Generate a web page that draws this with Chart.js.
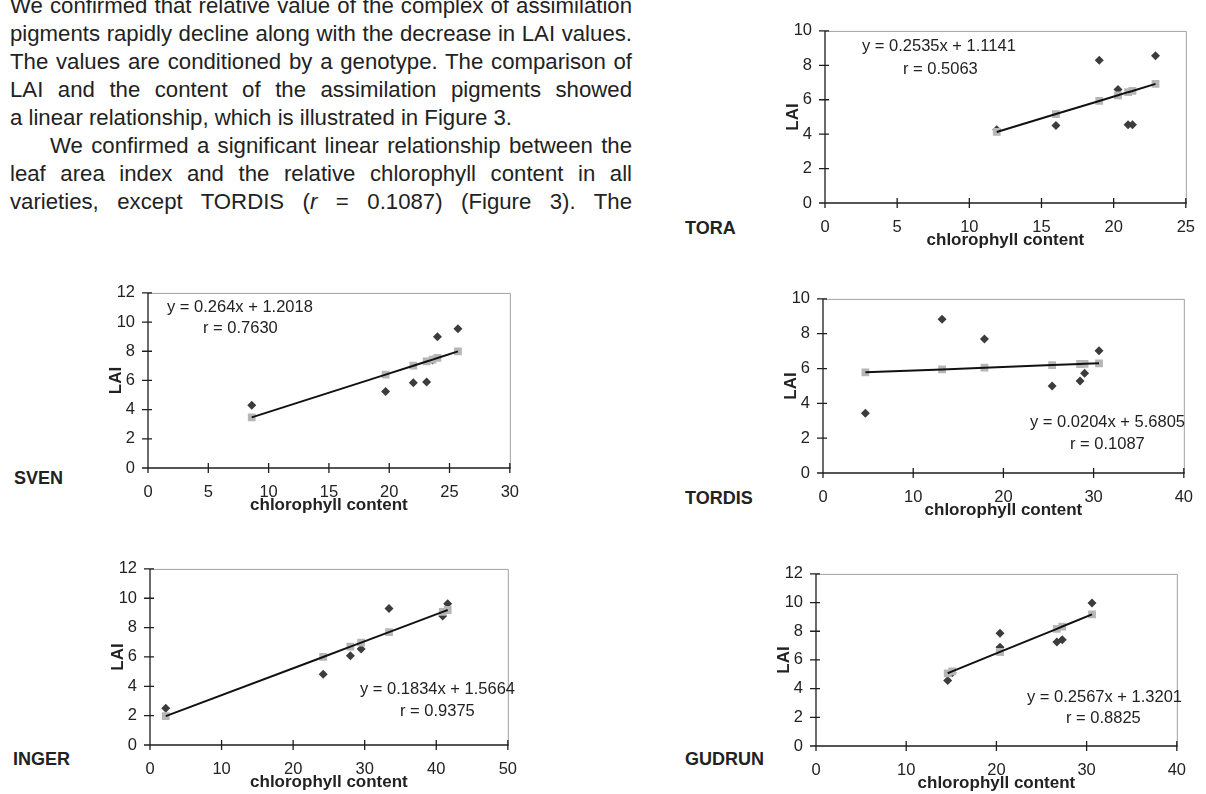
<!DOCTYPE html>
<html>
<head>
<meta charset="utf-8">
<script src="https://cdn.jsdelivr.net/npm/chart.js@4.4.0/dist/chart.umd.min.js"></script>
<style>
  html, body { margin: 0; padding: 0; background: #fff; overflow: hidden; }
  body { width: 1206px; height: 794px; position: relative; color: #222;
         font-family: Arial, "Liberation Sans", Helvetica, sans-serif; }
  #para { position: absolute; left: 10px; top: -8px; width: 622px; font-size: 22.2px; line-height: 28px; }
  #para div { text-align: justify; text-align-last: justify; }
  #para div.last { text-align-last: left; }
  #para div.indent { padding-left: 40px; }
  .variety { position: absolute; font-weight: bold; font-size: 18px; line-height: 20px; }
  .eq { position: absolute; font-size: 16.5px; line-height: 20px; white-space: nowrap; }
  canvas { position: absolute; }
</style>
</head>
<body>
<div id="para">
  <div>We confirmed that relative value of the complex of assimilation</div>
  <div>pigments rapidly decline along with the decrease in LAI values.</div>
  <div>The values are conditioned by a genotype. The comparison of</div>
  <div>LAI and the content of the assimilation pigments showed</div>
  <div class="last">a linear relationship, which is illustrated in Figure 3.</div>
  <div class="indent">We confirmed a significant linear relationship between the</div>
  <div>leaf area index and the relative chlorophyll content in all</div>
  <div>varieties, except TORDIS (<i>r</i> = 0.1087) (Figure 3). The</div>
</div>

<div class="variety" style="left:685px; top:218px">TORA</div>
<div class="variety" style="left:14px; top:468px">SVEN</div>
<div class="variety" style="left:685px; top:488px">TORDIS</div>
<div class="variety" style="left:13px; top:749px">INGER</div>
<div class="variety" style="left:685px; top:749px">GUDRUN</div>

<canvas id="tora" width="445" height="245" style="left:765px; top:8px"></canvas>
<canvas id="sven" width="446" height="248" style="left:88px; top:270px"></canvas>
<canvas id="tordis" width="445" height="247" style="left:763px; top:276px"></canvas>
<canvas id="inger" width="442" height="249" style="left:90px; top:546px"></canvas>
<canvas id="gudrun" width="445" height="245" style="left:756px; top:551px"></canvas>

<div class="eq" style="left:862px; top:35px">y = 0.2535x + 1.1141</div>
<div class="eq" style="left:903px; top:58px">r = 0.5063</div>
<div class="eq" style="left:167px; top:296px">y = 0.264x + 1.2018</div>
<div class="eq" style="left:203px; top:317px">r = 0.7630</div>
<div class="eq" style="left:1030px; top:411px">y = 0.0204x + 5.6805</div>
<div class="eq" style="left:1070px; top:433px">r = 0.1087</div>
<div class="eq" style="left:360px; top:678px">y = 0.1834x + 1.5664</div>
<div class="eq" style="left:400px; top:700px">r = 0.9375</div>
<div class="eq" style="left:1027px; top:686px">y = 0.2567x + 1.3201</div>
<div class="eq" style="left:1066px; top:707px">r = 0.8825</div>

<script>
// chlorophyll content (x), measured LAI and LAI from the regression line
const toraX = [11.9, 16, 19, 20.3, 21, 21.3, 22.9];
const toraLAI = [4.25, 4.5, 8.3, 6.6, 4.55, 4.55, 8.55];
const toraFit = [4.13, 5.17, 5.93, 6.26, 6.44, 6.51, 6.92];

const svenX = [8.6, 19.7, 22.0, 23.1, 23.6, 24.0, 25.7];
const svenLAI = [4.3, 5.25, 5.85, 5.9, 7.4, 9.0, 9.55];
const svenFit = [3.47, 6.40, 7.01, 7.30, 7.43, 7.54, 7.99];

const tordisX = [4.7, 13.2, 17.9, 25.4, 28.5, 29.0, 30.6];
const tordisLAI = [3.43, 8.83, 7.7, 5.0, 5.28, 5.73, 7.02];
const tordisFit = [5.78, 5.95, 6.05, 6.20, 6.26, 6.27, 6.30];

const ingerX = [2.2, 24.2, 28.0, 29.5, 33.4, 40.9, 41.6];
const ingerLAI = [2.5, 4.82, 6.09, 6.54, 9.3, 8.79, 9.63];
const ingerFit = [1.97, 6.00, 6.70, 6.98, 7.69, 9.07, 9.20];

const gudrunX = [14.6, 15.1, 20.4, 20.4, 26.7, 27.3, 30.6];
const gudrunLAI = [4.56, 5.1, 7.87, 6.89, 7.26, 7.41, 9.97];
const gudrunFit = [5.07, 5.20, 6.56, 6.56, 8.17, 8.33, 9.18];

Chart.defaults.font.family = 'Arial, "Liberation Sans", Helvetica, sans-serif';
Chart.defaults.color = '#222';

// gray box on top/right, black axes with crossing tick marks
const frame = {
  id: 'frame',
  beforeDatasetsDraw(chart) {
    const ctx = chart.ctx;
    const a = chart.chartArea;
    const x = chart.scales.x, y = chart.scales.y;
    ctx.save();
    ctx.strokeStyle = '#a0a0a0';
    ctx.lineWidth = 1;
    ctx.beginPath();
    ctx.moveTo(a.left, a.top + 0.5);
    ctx.lineTo(a.right + 0.5, a.top + 0.5);
    ctx.lineTo(a.right + 0.5, a.bottom);
    ctx.stroke();
    ctx.strokeStyle = '#1e1e1e';
    ctx.lineWidth = 1.3;
    ctx.beginPath();
    ctx.moveTo(a.left, a.top);
    ctx.lineTo(a.left, a.bottom);
    ctx.lineTo(a.right + 1, a.bottom);
    y.ticks.forEach(t => {
      const py = y.getPixelForValue(t.value);
      ctx.moveTo(a.left - 6, py);
      ctx.lineTo(a.left + 4, py);
    });
    x.ticks.forEach(t => {
      const px = x.getPixelForValue(t.value);
      ctx.moveTo(px, a.bottom - 5);
      ctx.lineTo(px, a.bottom + 5);
    });
    ctx.stroke();
    ctx.restore();
  }
};

function pts(xs, ys) {
  return xs.map((v, i) => ({ x: v, y: ys[i] }));
}

function drawChart(id, xs, lai, fit, xMax, xStep, yMax) {
  const ctx = document.getElementById(id).getContext('2d');
  new Chart(ctx, {
    type: 'scatter',
    data: {
      datasets: [{
        data: pts(xs, fit),
        showLine: true,
        borderColor: '#111',
        borderWidth: 2,
        pointRadius: 0,
        order: 0
      }, {
        data: pts(xs, fit),
        pointStyle: 'rect',
        pointRadius: 5.5,
        backgroundColor: '#b6b6b6',
        borderWidth: 0,
        order: 1
      }, {
        data: pts(xs, lai),
        pointStyle: 'rectRot',
        pointRadius: 4.5,
        backgroundColor: '#3c3c3c',
        borderWidth: 0,
        order: 2
      }]
    },
    options: {
      responsive: false,
      animation: false,
      layout: { padding: { top: 12, right: 14, left: 0, bottom: 0 } },
      plugins: { legend: { display: false }, tooltip: { enabled: false } },
      scales: {
        x: {
          type: 'linear', min: 0, max: xMax,
          ticks: { stepSize: xStep, padding: 15, font: { size: 16.5 } },
          grid: { display: false, drawTicks: false },
          border: { display: false },
          title: { display: true, text: 'chlorophyll content', font: { size: 17, weight: 'bold' }, padding: { top: 0, bottom: 2 } },
          afterFit: s => { s.height = 50; }
        },
        y: {
          min: 0, max: yMax,
          ticks: { stepSize: 2, padding: 13, font: { size: 16.5 } },
          grid: { display: false, drawTicks: false },
          border: { display: false },
          title: { display: true, text: 'LAI', font: { size: 17, weight: 'bold' }, padding: { top: 18, bottom: 0 } },
          afterFit: s => { s.width = 60; }
        }
      }
    },
    plugins: [frame]
  });
}

drawChart('tora', toraX, toraLAI, toraFit, 25, 5, 10);
drawChart('sven', svenX, svenLAI, svenFit, 30, 5, 12);
drawChart('tordis', tordisX, tordisLAI, tordisFit, 40, 10, 10);
drawChart('inger', ingerX, ingerLAI, ingerFit, 50, 10, 12);
drawChart('gudrun', gudrunX, gudrunLAI, gudrunFit, 40, 10, 12);
</script>
</body>
</html>
